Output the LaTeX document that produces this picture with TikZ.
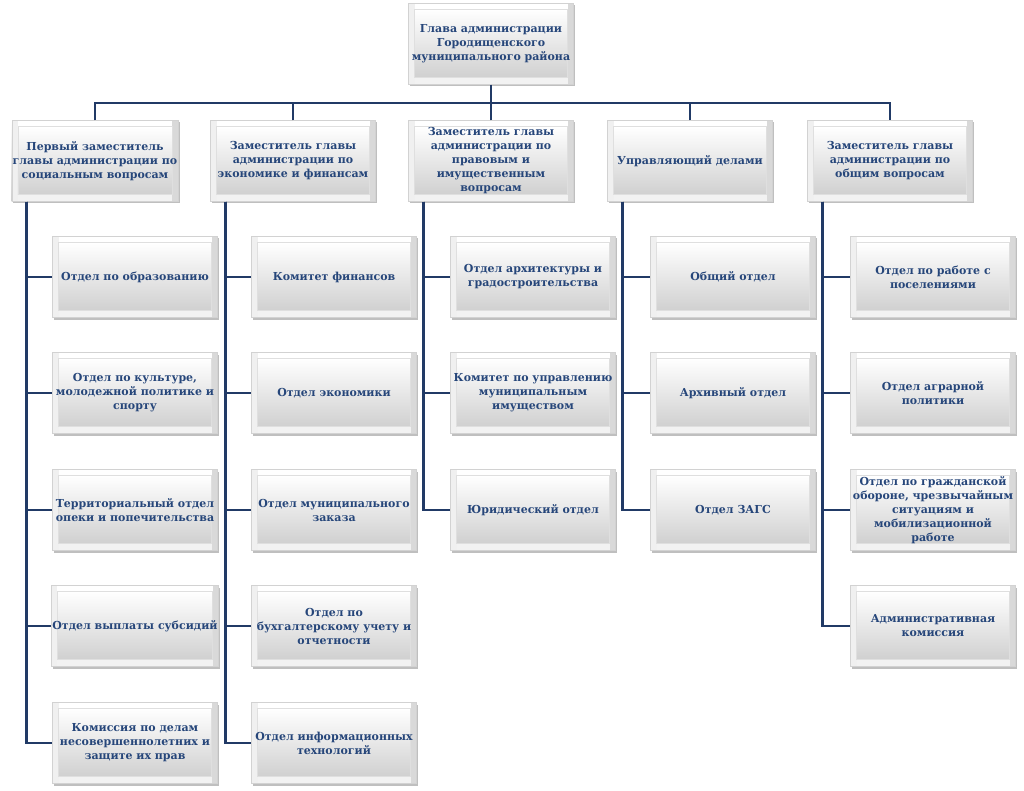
\documentclass[tikz,border=0pt]{standalone}
\usepackage{fontspec}
\setmainfont{DejaVu Serif}
\usetikzlibrary{shadows}
\definecolor{linec}{RGB}{33,58,102}
\definecolor{txtc}{RGB}{38,70,122}
\definecolor{rimc}{RGB}{242,242,242}
\definecolor{facebot}{RGB}{208,208,208}
\definecolor{facemid}{RGB}{236,236,236}
\tikzset{
  box/.style={
    rectangle, minimum width=165pt, minimum height=81pt, inner sep=1pt,
    align=center, text=txtc,
    font=\fontsize{11}{14}\selectfont\bfseries,
    top color=white, bottom color=facebot,
    draw=gray!35, line width=0.4pt,
    drop shadow={shadow xshift=1.5pt, shadow yshift=-2pt, fill=black, opacity=0.25},
    path picture={
      \fill[rimc] (path picture bounding box.south west) rectangle ([yshift=7pt]path picture bounding box.south east);
      \fill[white] (path picture bounding box.north west) rectangle ([yshift=-6pt]path picture bounding box.north east);
      \fill[gray!12] (path picture bounding box.south west) rectangle ([xshift=6pt]path picture bounding box.north west);
      \fill[gray!30] ([xshift=-6pt]path picture bounding box.south east) rectangle (path picture bounding box.north east);
      \shade[top color=white, middle color=facemid, bottom color=facebot]
        ([shift={(6pt,7pt)}]path picture bounding box.south west) rectangle
        ([shift={(-6pt,-6pt)}]path picture bounding box.north east);
      \draw[gray!25, line width=0.3pt]
        ([shift={(6pt,7pt)}]path picture bounding box.south west) rectangle
        ([shift={(-6pt,-6pt)}]path picture bounding box.north east);
    }
  },
  conn/.style={draw=linec, line width=2.6pt}
}
\begin{document}
\begin{tikzpicture}[x=1pt,y=-1pt]
\useasboundingbox (0,0) rectangle (1024,791);
% top
\node[box] (T) at (491,44) {Глава администрации\\Городищенского\\муниципального района};
% level 2
\node[box] (L1) at (95,161) {Первый заместитель\\главы администрации по\\социальным вопросам};
\node[box] (L2) at (293,161) {Заместитель главы\\администрации по\\экономике и финансам};
\node[box] (L3) at (491,161) {Заместитель главы\\администрации по\\правовым и\\имущественным\\вопросам};
\node[box] (L4) at (690,161) {Управляющий делами};
\node[box] (L5) at (890,161) {Заместитель главы\\администрации по\\общим вопросам};
% column 1
\node[box] (A1) at (135,277) {Отдел по образованию};
\node[box] (A2) at (135,393) {Отдел по культуре,\\молодежной политике и\\спорту};
\node[box] (A3) at (135,510) {Территориальный отдел\\опеки и попечительства};
\node[box] (A4) at (135,626) {Отдел выплаты субсидий};
\node[box] (A5) at (135,743) {Комиссия по делам\\несовершеннолетних и\\защите их прав};
% column 2
\node[box] (B1) at (334,277) {Комитет финансов};
\node[box] (B2) at (334,393) {Отдел экономики};
\node[box] (B3) at (334,510) {Отдел муниципального\\заказа};
\node[box] (B4) at (334,626) {Отдел по\\бухгалтерскому учету и\\отчетности};
\node[box] (B5) at (334,743) {Отдел информационных\\технологий};
% column 3
\node[box] (C1) at (533,277) {Отдел архитектуры и\\градостроительства};
\node[box] (C2) at (533,393) {Комитет по управлению\\муниципальным\\имуществом};
\node[box] (C3) at (533,510) {Юридический отдел};
% column 4
\node[box] (D1) at (733,277) {Общий отдел};
\node[box] (D2) at (733,393) {Архивный отдел};
\node[box] (D3) at (733,510) {Отдел ЗАГС};
% column 5
\node[box] (E1) at (933,277) {Отдел по работе с\\поселениями};
\node[box] (E2) at (933,393) {Отдел аграрной\\политики};
\node[box] (E3) at (933,510) {Отдел по гражданской\\обороне, чрезвычайным\\ситуациям и\\мобилизационной\\работе};
\node[box] (E4) at (933,626) {Административная\\комиссия};
% bus
\coordinate (bus) at (491,103);
\draw[conn] (T.south) -- (bus);
\draw[conn] (L1.north) |- (bus) -| (L5.north);
\draw[conn] (L2.north) -- (L2.north |- bus);
\draw[conn] (L3.north) -- (bus);
\draw[conn] (L4.north) -- (L4.north |- bus);
% column connectors
\foreach \p/\c in {L1/A1,L1/A2,L1/A3,L1/A4,L1/A5,L2/B1,L2/B2,L2/B3,L2/B4,L2/B5,L3/C1,L3/C2,L3/C3,L4/D1,L4/D2,L4/D3,L5/E1,L5/E2,L5/E3,L5/E4}
  \draw[conn] ([xshift=15pt]\p.south west) |- (\c.west);
\end{tikzpicture}
\end{document}
